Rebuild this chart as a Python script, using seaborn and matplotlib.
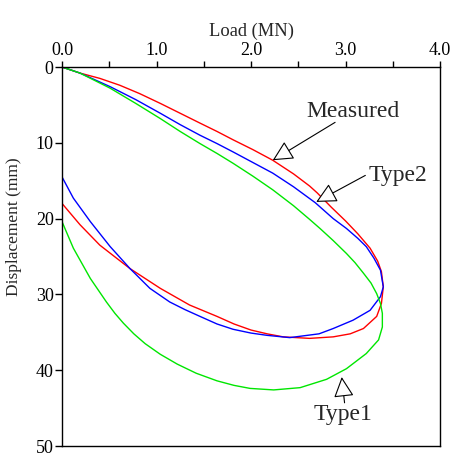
import numpy as np
import pandas as pd
import matplotlib
matplotlib.use("Agg")
import matplotlib.pyplot as plt
import seaborn as sns
from matplotlib.ticker import MultipleLocator, FormatStrFormatter

# Load (MN) / displacement (mm): loading then unloading
load_measured = [0.0, 0.19, 0.40, 0.61, 0.82, 1.04, 1.25, 1.46, 1.64, 1.81, 2.02, 2.23,
                 2.45, 2.62, 2.70, 2.85, 3.00, 3.13, 3.26, 3.34, 3.38, 3.40,
                 3.38, 3.33, 3.19, 3.05, 2.87, 2.62, 2.34, 2.17, 2.00, 1.82, 1.64,
                 1.35, 1.04, 0.72, 0.40, 0.19, 0.0]
disp_measured = [0.0, 0.8, 1.5, 2.4, 3.5, 4.8, 6.1, 7.4, 8.5, 9.6, 10.9, 12.3,
                 14.1, 15.7, 16.6, 18.5, 20.3, 22.0, 23.9, 25.6, 27.0, 29.0,
                 31.2, 32.9, 34.5, 35.2, 35.6, 35.8, 35.6, 35.2, 34.7, 33.9, 32.9,
                 31.4, 29.2, 26.6, 23.5, 20.8, 18.0]

load_type2 = [0.0, 0.19, 0.51, 0.78, 1.04, 1.25, 1.46, 1.64, 1.81, 2.02, 2.23, 2.45,
              2.68, 2.87, 3.01, 3.13, 3.22, 3.30, 3.37, 3.40,
              3.37, 3.26, 3.08, 2.87, 2.72, 2.41, 2.17, 2.00, 1.81, 1.64, 1.46,
              1.30, 1.14, 0.93, 0.72, 0.51, 0.30, 0.12, 0.0]
disp_type2 = [0.0, 0.8, 2.6, 4.3, 6.1, 7.6, 9.0, 10.1, 11.2, 12.6, 14.0, 15.8,
              17.9, 20.0, 21.3, 22.6, 23.7, 25.2, 26.8, 29.0,
              30.3, 32.1, 33.4, 34.5, 35.2, 35.7, 35.4, 35.1, 34.6, 33.9, 32.9,
              32.0, 31.0, 29.2, 26.6, 23.7, 20.4, 17.3, 14.5]

load_type1 = [0.0, 0.19, 0.51, 0.78, 1.04, 1.25, 1.46, 1.64, 1.81, 2.02, 2.23, 2.45,
              2.62, 2.73, 2.87, 3.01, 3.10, 3.19, 3.27, 3.33, 3.37, 3.39,
              3.39, 3.35, 3.22, 3.01, 2.80, 2.52, 2.24, 1.99, 1.82, 1.64, 1.42,
              1.22, 1.04, 0.88, 0.76, 0.65, 0.56, 0.47, 0.30, 0.12, 0.0]
disp_type1 = [0.0, 0.8, 2.8, 4.8, 6.8, 8.5, 10.1, 11.4, 12.7, 14.4, 16.2, 18.3,
              20.1, 21.3, 22.9, 24.6, 25.8, 27.2, 28.5, 29.9, 31.2, 32.5,
              34.3, 36.0, 37.8, 39.8, 41.2, 42.3, 42.6, 42.4, 42.0, 41.4, 40.4,
              39.2, 37.9, 36.5, 35.2, 33.8, 32.5, 31.0, 27.9, 23.9, 20.4]

series_names = ["Measured", "Type2", "Type1"]
colors = {"Measured": "#ff0000", "Type2": "#0000ff", "Type1": "#00e600"}

df = pd.concat([
    pd.DataFrame({"load": load_measured, "disp": disp_measured, "curve": "Measured"}),
    pd.DataFrame({"load": load_type2, "disp": disp_type2, "curve": "Type2"}),
    pd.DataFrame({"load": load_type1, "disp": disp_type1, "curve": "Type1"}),
], ignore_index=True)

sns.set_style("ticks")
plt.rcParams["font.family"] = ["Liberation Serif", "DejaVu Serif"]

fig = plt.figure(figsize=(4.53, 4.54), dpi=100)
ax = fig.add_axes([0.1369, 0.0176, 0.8344, 0.8348])

sns.lineplot(data=df, x="load", y="disp", hue="curve", hue_order=series_names,
             palette=colors, sort=False, estimator=None, lw=1.0, legend=False, ax=ax)

ax.set_xlim(0, 4)
ax.set_ylim(50, 0)
ax.xaxis.tick_top()
ax.xaxis.set_label_position("top")
ax.xaxis.set_major_locator(MultipleLocator(1.0))
ax.xaxis.set_minor_locator(MultipleLocator(0.5))
ax.xaxis.set_major_formatter(FormatStrFormatter("%.1f"))
ax.yaxis.set_major_locator(MultipleLocator(10))
ax.tick_params(axis="x", which="both", direction="out", length=4, width=1.0,
               labelsize=13, pad=2, colors="black")
ax.tick_params(axis="y", direction="out", length=5, width=1.0, labelsize=13, pad=1,
               colors="black")
ax.set_xlabel("Load (MN)", fontsize=13.3, labelpad=4)
ax.set_ylabel("Displacement (mm)", fontsize=12.5)
ax.yaxis.set_label_coords(-0.105, 0.58)
for s in ax.spines.values():
    s.set_linewidth(1.0)
    s.set_color("black")

arrow = dict(arrowstyle="-|>,head_length=0.7,head_width=0.35", fc="white", ec="black",
             lw=0.8, mutation_scale=18, shrinkA=0, shrinkB=0)
ax.annotate("", xy=(2.23, 12.3), xytext=(2.89, 7.3), arrowprops=arrow)
ax.text(3.08, 5.9, "Measured", fontsize=17, ha="center", va="center")
ax.annotate("", xy=(2.69, 17.8), xytext=(3.21, 14.3), arrowprops=arrow)
ax.text(3.56, 14.3, "Type2", fontsize=17, ha="center", va="center")
ax.annotate("", xy=(2.96, 40.9), xytext=(2.99, 44.3), arrowprops=arrow)
ax.text(2.97, 45.9, "Type1", fontsize=17, ha="center", va="center")

fig.savefig("out.png", dpi=100)
